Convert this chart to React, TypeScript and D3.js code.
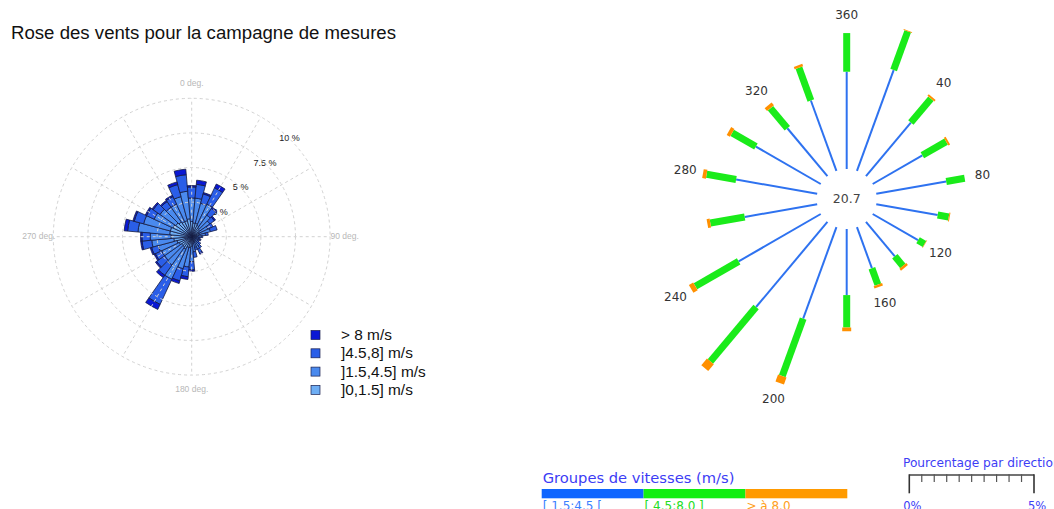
import React from 'react';
import * as d3 from 'd3';

// ---------- Left chart data (wind rose, % per 10° sector) ----------
const ROSE_DIRS = [0, 10, 20, 30, 40, 50, 60, 70, 80, 90, 100, 110, 120, 130, 140, 150, 160, 170,
  180, 190, 200, 210, 220, 230, 240, 250, 260, 270, 280, 290, 300, 310, 320, 330, 340, 350];
const S_0_15 = [1.1, 1.0, 1.0, 0.9, 0.8, 0.7, 0.6, 0.6, 0.5, 0.4, 0.3, 0.3, 0.3, 0.3, 0.4, 0.4, 0.4, 0.5,
  0.7, 0.8, 0.8, 1.0, 0.9, 0.9, 1.0, 1.1, 1.3, 1.5, 1.6, 1.6, 1.5, 1.4, 1.3, 1.2, 1.2, 1.3];
const S_15_45 = [1.7, 1.8, 1.5, 1.7, 1.1, 0.9, 0.7, 0.8, 0.5, 0.3, 0.2, 0.3, 0.2, 0.3, 0.4, 0.6, 0.4, 0.6,
  1.1, 1.4, 1.6, 2.4, 1.6, 1.5, 1.4, 1.4, 1.6, 1.5, 2.3, 2.0, 1.5, 1.4, 1.3, 1.4, 1.8, 2.0];
const S_45_8 = [0.8, 1.0, 0.7, 1.3, 0.6, 0.4, 0.4, 0.5, 0.2, 0.1, 0.1, 0.1, 0.1, 0.2, 0.2, 0.3, 0.2, 0.4,
  0.6, 0.7, 0.9, 2.0, 0.9, 0.7, 0.5, 0.5, 0.7, 0.6, 0.75, 0.7, 0.6, 0.6, 0.5, 0.6, 0.9, 1.2];
const S_GT8 = [0.1, 0.3, 0.1, 0.3, 0.1, 0.1, 0.0, 0.0, 0.0, 0.0, 0.0, 0.0, 0.0, 0.0, 0.0, 0.1, 0.0, 0.0,
  0.1, 0.2, 0.2, 0.4, 0.2, 0.1, 0.1, 0.1, 0.1, 0.1, 0.25, 0.1, 0.1, 0.1, 0.1, 0.1, 0.2, 0.4];
const ROSE_KEYS = ['s1', 's2', 's3', 's4'];
const ROSE_COLORS = ['#6eaef4', '#4a8aee', '#2a5ee8', '#0a18d4'];
const ROSE_LEGEND = ['> 8 m/s', ']4.5,8] m/s', ']1.5,4.5] m/s', ']0,1.5] m/s'];
const RING_TICKS = [2.5, 5, 7.5, 10];
const RING_LABEL_VALUES = [0, 2.5, 5, 7.5, 10];
const RING_LABELS = ['0 %', '2.5 %', '5 %', '7.5 %', '10 %'];
const SPOKE_ANGLES = [0, 30, 60, 90, 120, 150, 180, 210, 240, 270, 300, 330];
const AXIS_DIRS = [0, 90, 180, 270];
const AXIS_LABELS = ['0 deg.', '90 deg.', '180 deg.', '270 deg.'];
const TITLE = 'Rose des vents pour la campagne de mesures';

// ---------- Right chart data (% per 20° direction) ----------
const SPOKE_DIRS = [0, 20, 40, 60, 80, 100, 120, 140, 160, 180, 200, 220, 240, 260, 280, 300, 320, 340];
const BLUE_VALS = [3.9, 4.3, 2.8, 2.3, 2.85, 2.5, 2.1, 1.8, 1.75, 2.65, 3.9, 4.45, 3.8, 2.95, 3.3, 3.0, 2.5, 3.0];
const GREEN_VALS = [1.55, 1.65, 1.25, 1.1, 0.75, 0.45, 0.3, 0.5, 0.7, 1.3, 2.45, 2.85, 2.0, 1.4, 1.2, 1.1, 1.05, 1.4];
const ORANGE_VALS = [0.0, 0.03, 0.08, 0.08, 0.0, 0.04, 0.02, 0.1, 0.1, 0.15, 0.3, 0.35, 0.2, 0.12, 0.15, 0.15, 0.15, 0.1];
const DIR_LABEL_DIRS = [0, 40, 80, 120, 160, 200, 240, 280, 320];
const DIR_LABELS = ['360', '40', '80', '120', '160', '200', '240', '280', '320'];
const CALM_TEXT = '20.7';
const GROUP_TITLE = 'Groupes de vitesses (m/s)';
const GROUP_LABELS = ['[ 1.5:4.5 [', '[ 4.5:8.0 ]', '> à 8.0'];
const GROUP_COLORS = ['#0f66ff', '#11ee11', '#ff9a00'];
const GROUP_TEXT_COLORS = ['#3a80ff', '#22dd22', '#ffa020'];
const PCT_TITLE = 'Pourcentage par direction';
const PCT_TICKS = [0, 0.5, 1, 1.5, 2, 2.5, 3, 3.5, 4, 4.5, 5];
const PCT_TICK_LABELS = ['0%', '5%'];

export default function App() {
  // ---- left rose ----
  const cx = 191.7, cy = 236.7;
  const r = d3.scaleLinear().domain([0, 10]).range([0, 138.4]);
  const table = ROSE_DIRS.map((d, i) => ({ dir: d, s1: S_0_15[i], s2: S_15_45[i], s3: S_45_8[i], s4: S_GT8[i] }));
  const stacked = d3.stack<any>().keys(ROSE_KEYS)(table);
  const half = 5;
  const arc = d3.arc<any>();
  const rad = (deg: number) => (deg * Math.PI) / 180;
  const polar = (deg: number, rr: number) => [Math.sin(rad(deg)) * rr, -Math.cos(rad(deg)) * rr];

  // ---- right spokes ----
  const rcx = 846.7, rcy = 199;
  const inner = 30;
  const len = d3.scaleLinear().domain([0, 5]).range([0, 124.7]);
  const spokes = SPOKE_DIRS.map((d, i) => {
    const r1 = inner + len(BLUE_VALS[i]);
    const r2 = r1 + len(GREEN_VALS[i]);
    const r3 = r2 + len(ORANGE_VALS[i]);
    return { d, r1, r2, r3 };
  });
  const pctScale = d3.scaleLinear().domain([0, 5]).range([909.3, 1034]);
  const groupX = d3.scaleBand().domain(GROUP_LABELS).range([541.7, 847.3]).padding(0);

  const seg = (deg: number, a: number, b: number) => {
    const [x1, y1] = polar(deg, a);
    const [x2, y2] = polar(deg, b);
    return { x1: rcx + x1, y1: rcy + y1, x2: rcx + x2, y2: rcy + y2 };
  };

  return (
    <svg width={1054} height={509} style={{ position: 'absolute', left: 0, top: 0, background: '#fff' }}>
      <rect x={0} y={0} width={1054} height={509} fill="#fff" />
      {/* Title */}
      <text x={11} y={39} fontFamily="Liberation Sans, Arial, sans-serif" fontSize={17.5} fill="#111"
        textLength={385} lengthAdjust="spacingAndGlyphs">{TITLE}</text>

      {/* Left rose */}
      <g transform={`translate(${cx},${cy})`}>
        {RING_LABEL_VALUES.map((v, i) => {
          const [x, y] = polar(45, r(v));
          return (
            <text key={'rl' + i} x={x} y={y} textAnchor="middle" dominantBaseline="middle"
              fontFamily="Liberation Sans, Arial, sans-serif" fontSize={9} fill="#222">{RING_LABELS[i]}</text>
          );
        })}
        {stacked.map((layer, li) => (
          <g key={'layer' + li}>
            {layer.map((p: any, j: number) => {
              const dir = p.data.dir;
              if (p[1] - p[0] <= 0) return null;
              const path = arc({
                innerRadius: r(p[0]),
                outerRadius: r(p[1]),
                startAngle: rad(dir - half),
                endAngle: rad(dir + half),
              });
              return <path key={j} d={path || ''} fill={ROSE_COLORS[li]} stroke="#141a40" strokeWidth={0.8} />;
            })}
          </g>
        ))}
        {RING_TICKS.map((t) => (
          <circle key={'c' + t} r={r(t)} fill="none" stroke="#d2d2d2" strokeWidth={1} strokeDasharray="3,3" />
        ))}
        {SPOKE_ANGLES.map((a) => {
          const [x0, y0] = polar(a, r(1.3));
          const [x, y] = polar(a, r(10));
          return <line key={'s' + a} x1={x0} y1={y0} x2={x} y2={y} stroke="#d2d2d2" strokeWidth={1} strokeDasharray="3,3" />;
        })}
        {AXIS_DIRS.map((a, i) => {
          const [x, y] = polar(a, 153);
          return (
            <text key={'ax' + a} x={x} y={y} textAnchor="middle" dominantBaseline="middle"
              fontFamily="Liberation Sans, Arial, sans-serif" fontSize={8.5} fill="#b8b8b8">{AXIS_LABELS[i]}</text>
          );
        })}
      </g>

      {/* Left legend */}
      {ROSE_LEGEND.map((lab, i) => {
        const yc = 335 + i * 18.3;
        return (
          <g key={'lg' + i}>
            <rect x={311} y={yc - 4.5} width={9} height={9} fill={ROSE_COLORS[3 - i]} stroke="#1a2050" strokeWidth={0.7} />
            <g transform={`translate(341,${yc + 5}) scale(1.1,1)`}>
              <text x={0} y={0} fontFamily="Liberation Sans, Arial, sans-serif" fontSize={14} fill="#111">{lab}</text>
            </g>
          </g>
        );
      })}

      {/* Right spoke chart */}
      {spokes.map((s, i) => {
        const b = seg(s.d, inner, s.r1);
        const g = seg(s.d, s.r1, s.r2);
        const o = seg(s.d, s.r2, s.r3);
        return (
          <g key={'sp' + i}>
            <line {...b} stroke="#2e72f0" strokeWidth={2} />
            <line {...g} stroke="#1aeb1a" strokeWidth={7} />
            {s.r3 - s.r2 > 0 && <line {...o} stroke="#ff9000" strokeWidth={9} />}
          </g>
        );
      })}
      {DIR_LABEL_DIRS.map((d, i) => {
        const s = spokes[SPOKE_DIRS.indexOf(d)];
        const [x, y] = polar(d, s.r3 + 18);
        return (
          <text key={'dl' + i} x={rcx + x} y={rcy + y} textAnchor="middle" dominantBaseline="middle"
            fontFamily="DejaVu Sans, sans-serif" fontSize={12} fill="#333">{DIR_LABELS[i]}</text>
        );
      })}
      <text x={rcx} y={rcy} textAnchor="middle" dominantBaseline="middle" fontFamily="DejaVu Sans, sans-serif"
        fontSize={12.5} fill="#444">{CALM_TEXT}</text>

      {/* Speed-group legend */}
      <text x={542.7} y={482.7} fontFamily="DejaVu Sans, sans-serif" fontSize={14.7} fill="#3c3cf5">{GROUP_TITLE}</text>
      {GROUP_LABELS.map((lab, i) => (
        <g key={'gl' + i}>
          <rect x={groupX(lab)} y={489} width={groupX.bandwidth()} height={9.3} fill={GROUP_COLORS[i]} />
          <text x={(groupX(lab) as number) + 1} y={509.5} fontFamily="DejaVu Sans, sans-serif" fontSize={12}
            fill={GROUP_TEXT_COLORS[i]}>{lab}</text>
        </g>
      ))}

      {/* Percentage legend */}
      <text x={903} y={466.7} fontFamily="DejaVu Sans, sans-serif" fontSize={12.2} fill="#3d3df5">{PCT_TITLE}</text>
      <line x1={pctScale(0)} y1={475} x2={pctScale(5)} y2={475} stroke="#444" strokeWidth={1.5} />
      {PCT_TICKS.map((t, i) => {
        const end = i === 0 || i === PCT_TICKS.length - 1;
        return (
          <line key={'pt' + i} x1={pctScale(t)} y1={474.3} x2={pctScale(t)} y2={end ? 493.3 : 482}
            stroke={end ? '#333' : '#555'} strokeWidth={end ? 1.6 : 1.2} />
        );
      })}
      {[0, 5].map((t, i) => (
        <text key={'ptl' + i} x={pctScale(t) + 3} y={510} textAnchor="middle" fontFamily="DejaVu Sans, sans-serif"
          fontSize={11.5} fill="#3d3df5">{PCT_TICK_LABELS[i]}</text>
      ))}
    </svg>
  );
}
